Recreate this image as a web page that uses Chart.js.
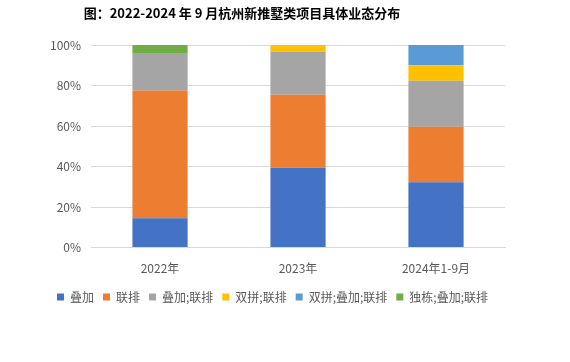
<!DOCTYPE html>
<html><head><meta charset="utf-8">
<script src="https://cdn.jsdelivr.net/npm/chart.js@4/dist/chart.umd.min.js"></script>
<style>
html,body{margin:0;padding:0;background:#fff;}
#wrap{position:relative;width:570px;height:362px;}
#title{position:absolute;left:0;top:3px;width:484px;text-align:center;font:bold 13px "Noto Sans CJK SC",sans-serif;color:#000;}
canvas{position:absolute;left:0;top:0;}
</style></head>
<body>
<div id="wrap">
<canvas id="c" width="570" height="362"></canvas>
<div id="title">图：2022-2024 年 9 月杭州新推墅类项目具体业态分布</div>
</div>
<script>
const categories = ['2022年', '2023年', '2024年1-9月'];
const seriesNames = ['叠加', '联排', '叠加;联排', '双拼;联排', '双拼;叠加;联排', '独栋;叠加;联排'];
const dieJia = [14.5, 39.4, 32.3];
const lianPai = [63.1, 36.0, 27.4];
const dieJiaLianPai = [18.5, 21.4, 22.7];
const shuangPinLianPai = [0, 3.2, 7.6];
const shuangPinDieJiaLianPai = [0, 0, 10.0];
const duDongDieJiaLianPai = [3.9, 0, 0];
const yTicks = [0, 20, 40, 60, 80, 100];

const colors = ['#4472C4', '#ED7D31', '#A5A5A5', '#FFC000', '#5B9BD5', '#70AD47'];
const values = [dieJia, lianPai, dieJiaLianPai, shuangPinLianPai, shuangPinDieJiaLianPai, duDongDieJiaLianPai];
const font = '"Noto Sans CJK SC", sans-serif';

new Chart(document.getElementById('c'), {
  type: 'bar',
  data: {
    labels: categories,
    datasets: seriesNames.map((n, i) => ({
      label: n, data: values[i], backgroundColor: colors[i],
      borderWidth: 0, categoryPercentage: 1, barPercentage: 0.4
    }))
  },
  options: {
    responsive: false, animation: false,
    layout: { padding: { left: 40, right: 65, top: 45, bottom: 49 } },
    plugins: {
      legend: {
        position: 'bottom',
        labels: { boxWidth: 7, boxHeight: 7, padding: 9, color: '#595959', font: { family: font, size: 12 } }
      },
      tooltip: { enabled: false }
    },
    scales: {
      x: {
        stacked: true,
        grid: { display: false },
        border: { color: '#D9D9D9' },
        ticks: { color: '#595959', font: { family: font, size: 12 }, padding: 6 }
      },
      y: {
        stacked: true, min: 0, max: 100,
        afterBuildTicks: ax => { ax.ticks = yTicks.map(v => ({ value: v })); },
        grid: { color: '#D9D9D9', drawTicks: false },
        border: { display: false },
        ticks: { color: '#595959', font: { family: font, size: 12 }, padding: 10, callback: v => v + '%' }
      }
    }
  }
});
</script>
</body></html>
